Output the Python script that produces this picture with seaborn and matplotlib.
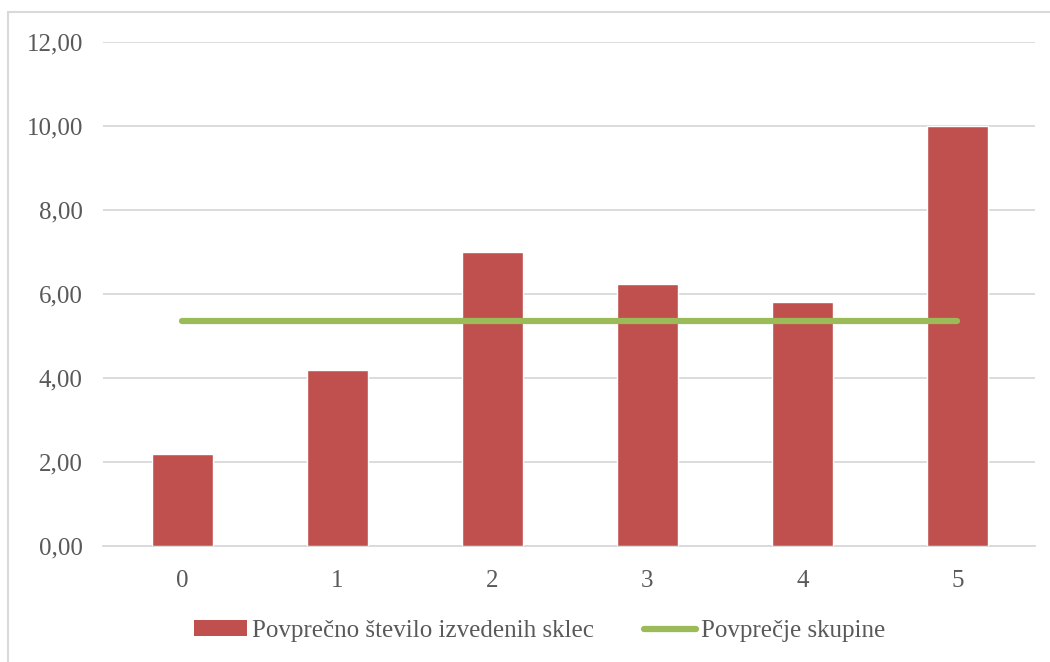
import matplotlib
matplotlib.use("Agg")
import matplotlib.pyplot as plt
from matplotlib.patches import Patch
from matplotlib.lines import Line2D
import seaborn as sns
import pandas as pd

# Data
skupine = ["0", "1", "2", "3", "4", "5"]
povprecno_sklec = [2.2, 4.2, 7.0, 6.25, 5.8, 10.0]
povprecje_skupine = [5.36, 5.36, 5.36, 5.36, 5.36, 5.36]
y_ticks = [0, 2, 4, 6, 8, 10, 12]

bar_label = "Povprečno število izvedenih sklec"
line_label = "Povprečje skupine"

sns.set_theme(style="white")
plt.rcParams["font.family"] = ["Liberation Serif", "DejaVu Serif"]

BAR_COLOR = "#C0504D"
LINE_COLOR = "#9BBB59"
TEXT_COLOR = "#595959"
GRID_COLOR = "#D9D9D9"

df = pd.DataFrame({"skupina": skupine, "sklece": povprecno_sklec,
                   "povprecje": povprecje_skupine})

fig = plt.figure(figsize=(10.5, 6.62), dpi=100)
ax = fig.add_axes([103 / 1050, 1 - 546 / 662, (1035 - 103) / 1050, (546 - 42) / 662])

sns.barplot(data=df, x="skupina", y="sklece", color=BAR_COLOR, saturation=1,
            width=0.393, ax=ax, zorder=3)
ax.plot(range(len(skupine)), df["povprecje"], color=LINE_COLOR, lw=4.5,
        solid_capstyle="round", zorder=4)

ax.set_xlim(-0.51, 5.5)
ax.set_ylim(0, 12)
ax.set_yticks(y_ticks)
ax.set_yticklabels([f"{v:.2f}".replace(".", ",") for v in y_ticks])
ax.yaxis.grid(True, color=GRID_COLOR, lw=1.3, zorder=0)
ax.set_axisbelow(True)
for s in ["left", "right", "top"]:
    ax.spines[s].set_visible(False)
ax.spines["bottom"].set_color(GRID_COLOR)
ax.spines["bottom"].set_linewidth(1.3)
ax.set_xlabel("")
ax.set_ylabel("")
ax.tick_params(axis="both", length=0, labelsize=18, labelcolor=TEXT_COLOR)
ax.tick_params(axis="y", pad=14.5)
ax.tick_params(axis="x", pad=17)

handles = [Patch(facecolor=BAR_COLOR, edgecolor="none"),
           Line2D([0], [0], color=LINE_COLOR, lw=4.5, solid_capstyle="round")]
fig.legend(handles, [bar_label, line_label], loc="center",
           bbox_to_anchor=(540 / 1050, 1 - 631 / 662), ncol=2, frameon=False,
           fontsize=18, labelcolor=TEXT_COLOR, handlelength=2.1,
           handleheight=0.6, handletextpad=0.2, columnspacing=2.0)

# Chart frame
fig.add_artist(Line2D([8 / 1050, 8 / 1050], [0, 1 - 12 / 662],
                      color=GRID_COLOR, lw=1.5, transform=fig.transFigure))
fig.add_artist(Line2D([8 / 1050, 1], [1 - 12 / 662, 1 - 12 / 662],
                      color=GRID_COLOR, lw=1.5, transform=fig.transFigure))

fig.savefig("out.png", dpi=100, facecolor="white")
